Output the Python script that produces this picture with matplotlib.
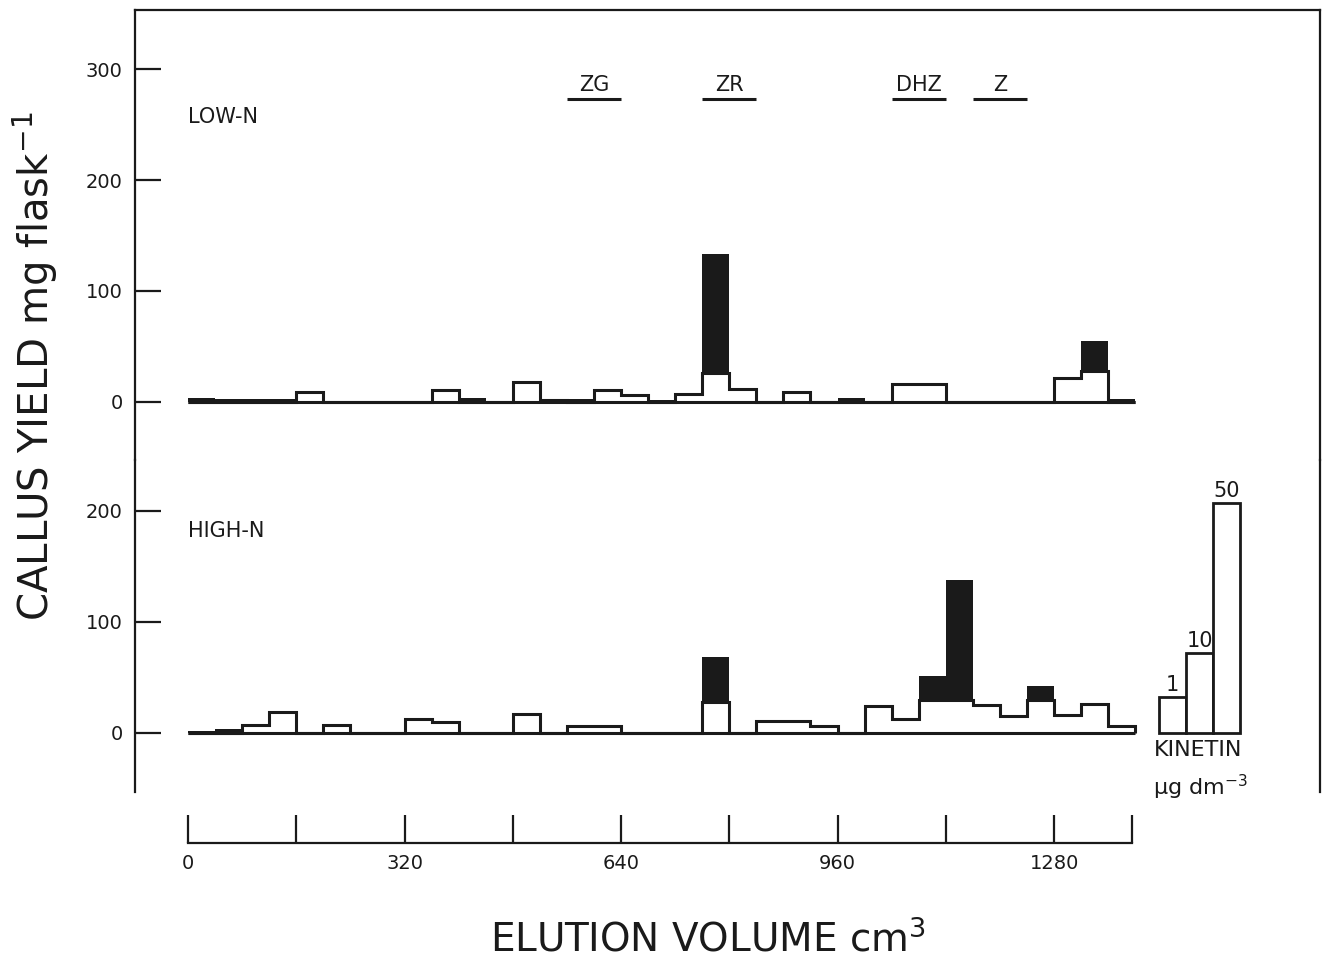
import matplotlib
matplotlib.use("Agg")
import matplotlib.pyplot as plt
import numpy as np

# fractions of 40 cm3 collected from the column
fraction_start = np.arange(0, 1400, 40)
fraction_width = 40

# callus yield (mg flask-1): open part and solid part stacked on top
low_n_open = [0, 0, 0, 0, 9, 0, 0, 0, 0, 11, 0, 0, 18, 2, 0, 11, 6, 0,
              7, 26, 12, 0, 9, 0, 0, 0, 16, 16, 0, 0, 0, 0, 22, 28, 0]
low_n_solid = [4, 3, 3, 3, 0, 0, 0, 0, 0, 0, 4, 0, 0, 1, 3, 0, 0, 2,
               0, 107, 0, 0, 0, 1, 4, 0, 0, 0, 0, 0, 0, 0, 0, 27, 3]
high_n_open = [0, 0, 7, 19, 0, 7, 0, 0, 13, 10, 0, 0, 17, 0, 6, 6, 0, 0,
               0, 28, 0, 11, 11, 6, 0, 24, 13, 30, 30, 25, 15, 30, 16, 26, 6]
high_n_solid = [2, 4, 0, 0, 0, 0, 0, 0, 0, 0, 0, 0, 0, 0, 0, 0, 0, 0,
                0, 40, 0, 0, 0, 0, 0, 0, 0, 21, 108, 0, 0, 12, 0, 0, 0]

kinetin_doses = ["1", "10", "50"]
kinetin_yield = [32, 72, 207]

peak_names = ["ZG", "ZR", "DHZ", "Z"]
peak_start = [560, 760, 1040, 1160]
peak_end = [640, 840, 1120, 1240]

INK = "#1a1a1a"
W, H = 1329, 961
fig = plt.figure(figsize=(W / 100, H / 100), dpi=100)


def px_axes(left, top, right, bottom):
    return fig.add_axes([left / W, 1 - bottom / H, (right - left) / W, (bottom - top) / H])


xlim = (-78.3, 1673)
ax_top = px_axes(135, 10, 1320, 460)
ax_bot = px_axes(135, 460, 1320, 792)
ax_top.set_ylim(-52.3, 353.2)
ax_bot.set_ylim(-53.2, 245.9)

edges = np.append(fraction_start, fraction_start[-1] + fraction_width)


def draw_panel(ax, open_vals, solid_vals, yticks):
    # open part as a histogram outline, solid part stacked on top
    ax.bar(fraction_start, open_vals, width=fraction_width, align="edge",
           facecolor="white", edgecolor="none", zorder=2)
    ax.stairs(open_vals, edges, baseline=0, color=INK, lw=2.2, zorder=3)
    ax.bar(fraction_start, solid_vals, width=fraction_width, bottom=open_vals,
           align="edge", color=INK, linewidth=0, zorder=4)
    ax.hlines(0, 0, 1400, color=INK, lw=2.2, zorder=5)
    ax.set_xlim(*xlim)
    ax.set_xticks([])
    ax.set_yticks(yticks)
    ax.tick_params(axis="y", direction="in", length=19, width=1.6, pad=9,
                   labelsize=14, colors=INK)
    for s in ("left", "right", "top"):
        ax.spines[s].set_linewidth(1.6)
        ax.spines[s].set_color(INK)
    ax.spines["bottom"].set_visible(False)
    ax.patch.set_alpha(0)


draw_panel(ax_top, low_n_open, low_n_solid, [0, 100, 200, 300])
draw_panel(ax_bot, high_n_open, high_n_solid, [0, 100, 200])
ax_bot.spines["top"].set_visible(False)

ax_top.text(0, 257, "LOW-N", fontsize=15, va="center", ha="left", color=INK)
ax_bot.text(0, 182, "HIGH-N", fontsize=15, va="center", ha="left", color=INK)

# peak markers
ax_top.hlines([273] * len(peak_names), peak_start, peak_end, color=INK, lw=2.2)
for name, a, b in zip(peak_names, peak_start, peak_end):
    ax_top.text((a + b) / 2, 280, name, ha="center", va="baseline",
                fontsize=15, color=INK)

# kinetin standards
kin_x = 1435 + 40 * np.arange(len(kinetin_doses))
ax_bot.bar(kin_x, kinetin_yield, width=40, align="edge", facecolor="white",
           edgecolor=INK, linewidth=2, zorder=2)
for x, y, d in zip(kin_x, kinetin_yield, kinetin_doses):
    ax_bot.text(x + 20, y + 2, d, ha="center", va="bottom", fontsize=15, color=INK)
ax_bot.text(1493, -15, "KINETIN", ha="center", va="center", fontsize=16, color=INK)
ax_bot.text(1496, -49, "µg dm$^{-3}$", ha="center", va="center", fontsize=16, color=INK)

# separate elution volume scale
ax_x = px_axes(135, 830, 1320, 843)
for s in ("left", "right", "top"):
    ax_x.spines[s].set_visible(False)
ax_x.spines["bottom"].set_bounds(0, 1395)
ax_x.spines["bottom"].set_linewidth(1.6)
ax_x.spines["bottom"].set_color(INK)
ax_x.set_xlim(*xlim)
ax_x.set_yticks([])
ax_x.set_xticks([0, 320, 640, 960, 1280])
ax_x.set_xticks([160, 480, 800, 1120, 1395], minor=True)
ax_x.tick_params(axis="x", which="both", direction="in", length=20, width=1.6,
                 pad=8, labelsize=14, colors=INK)
ax_x.patch.set_alpha(0)

fig.text(708 / W, 1 - 940 / H, "ELUTION VOLUME cm$^3$", ha="center", va="center",
         fontsize=28, color=INK)
fig.text(35 / W, 1 - 366 / H, "CALLUS YIELD mg flask$^{-1}$", ha="center",
         va="center", rotation=90, fontsize=29, color=INK)

fig.savefig("out.png", dpi=100, facecolor="white")
